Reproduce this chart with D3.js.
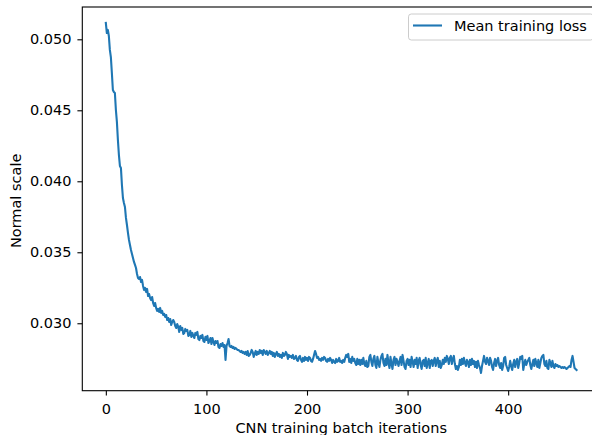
<!DOCTYPE html>
<html>
<head>
<meta charset="utf-8">
<script src="https://cdn.jsdelivr.net/npm/d3@7"></script>
<style>
  html, body { margin: 0; padding: 0; background: #fff; }
  svg { display: block; font-family: "DejaVu Sans", sans-serif; }
</style>
</head>
<body>
<svg id="chart" width="592" height="435"></svg>
<script>
// mean training loss per batch iteration
const loss = [
  0.05115, 0.05044, 0.05066, 0.05023, 0.04925, 0.04875, 0.04763, 0.04643, 0.04629, 0.04622,
  0.04502, 0.04418, 0.04291, 0.04185, 0.04108, 0.04094, 0.03974, 0.03882, 0.03847, 0.03819,
  0.03742, 0.03692, 0.03636, 0.03587, 0.03551, 0.03516, 0.03488, 0.03460, 0.03432, 0.03411,
  0.03389, 0.03347, 0.03319, 0.03312, 0.03326, 0.03291, 0.03305, 0.03263, 0.03235, 0.03249,
  0.03220, 0.03242, 0.03192, 0.03206, 0.03178, 0.03164, 0.03185, 0.03143, 0.03122, 0.03143,
  0.03108, 0.03087, 0.03101, 0.03080, 0.03108, 0.03073, 0.03087, 0.03058, 0.03066, 0.03044,
  0.03058, 0.03023, 0.03037, 0.03009, 0.03030, 0.02988, 0.03009, 0.03023, 0.03009, 0.02981,
  0.02967, 0.02995, 0.02974, 0.02939, 0.02981, 0.02953, 0.02967, 0.02925, 0.02932, 0.02960,
  0.02946, 0.02953, 0.02911, 0.02918, 0.02946, 0.02904, 0.02932, 0.02911, 0.02896, 0.02932,
  0.02918, 0.02939, 0.02889, 0.02882, 0.02911, 0.02896, 0.02918, 0.02875, 0.02868, 0.02904,
  0.02882, 0.02911, 0.02861, 0.02875, 0.02896, 0.02854, 0.02896, 0.02868, 0.02847, 0.02875,
  0.02861, 0.02875, 0.02833, 0.02826, 0.02854, 0.02840, 0.02861, 0.02833, 0.02847, 0.02742,
  0.02840, 0.02861, 0.02889, 0.02840, 0.02833, 0.02840, 0.02826, 0.02833, 0.02819, 0.02826,
  0.02819, 0.02812, 0.02812, 0.02805, 0.02798, 0.02805, 0.02791, 0.02798, 0.02784, 0.02798,
  0.02777, 0.02805, 0.02770, 0.02777, 0.02791, 0.02812, 0.02798, 0.02763, 0.02784, 0.02805,
  0.02777, 0.02798, 0.02784, 0.02812, 0.02791, 0.02805, 0.02777, 0.02812, 0.02798, 0.02784,
  0.02805, 0.02777, 0.02791, 0.02805, 0.02784, 0.02798, 0.02770, 0.02791, 0.02763, 0.02784,
  0.02798, 0.02770, 0.02784, 0.02763, 0.02777, 0.02756, 0.02791, 0.02770, 0.02777, 0.02798,
  0.02784, 0.02749, 0.02777, 0.02763, 0.02770, 0.02756, 0.02777, 0.02749, 0.02756, 0.02770,
  0.02742, 0.02735, 0.02763, 0.02770, 0.02742, 0.02728, 0.02756, 0.02735, 0.02763, 0.02742,
  0.02756, 0.02735, 0.02763, 0.02756, 0.02735, 0.02728, 0.02749, 0.02777, 0.02805, 0.02784,
  0.02756, 0.02763, 0.02742, 0.02749, 0.02735, 0.02756, 0.02742, 0.02763, 0.02756, 0.02735,
  0.02728, 0.02749, 0.02735, 0.02756, 0.02742, 0.02720, 0.02742, 0.02728, 0.02720, 0.02749,
  0.02728, 0.02735, 0.02756, 0.02728, 0.02735, 0.02720, 0.02742, 0.02728, 0.02756, 0.02777,
  0.02763, 0.02784, 0.02728, 0.02749, 0.02720, 0.02763, 0.02735, 0.02749, 0.02720, 0.02706,
  0.02749, 0.02713, 0.02742, 0.02706, 0.02742, 0.02713, 0.02756, 0.02713, 0.02699, 0.02735,
  0.02692, 0.02699, 0.02763, 0.02777, 0.02728, 0.02699, 0.02749, 0.02770, 0.02706, 0.02685,
  0.02763, 0.02720, 0.02692, 0.02742, 0.02770, 0.02784, 0.02720, 0.02699, 0.02749, 0.02706,
  0.02777, 0.02720, 0.02685, 0.02763, 0.02713, 0.02678, 0.02742, 0.02763, 0.02706, 0.02749,
  0.02728, 0.02699, 0.02735, 0.02763, 0.02706, 0.02777, 0.02735, 0.02692, 0.02678, 0.02735,
  0.02749, 0.02706, 0.02742, 0.02692, 0.02763, 0.02728, 0.02692, 0.02742, 0.02713, 0.02756,
  0.02685, 0.02735, 0.02756, 0.02706, 0.02678, 0.02735, 0.02742, 0.02699, 0.02756, 0.02685,
  0.02720, 0.02749, 0.02685, 0.02735, 0.02742, 0.02699, 0.02735, 0.02756, 0.02699, 0.02735,
  0.02756, 0.02692, 0.02735, 0.02685, 0.02706, 0.02742, 0.02713, 0.02756, 0.02728, 0.02770,
  0.02749, 0.02713, 0.02756, 0.02770, 0.02713, 0.02749, 0.02770, 0.02713, 0.02678, 0.02699,
  0.02671, 0.02692, 0.02742, 0.02706, 0.02749, 0.02713, 0.02756, 0.02720, 0.02699, 0.02742,
  0.02728, 0.02692, 0.02742, 0.02706, 0.02749, 0.02713, 0.02735, 0.02692, 0.02728, 0.02685,
  0.02735, 0.02706, 0.02685, 0.02650, 0.02699, 0.02735, 0.02770, 0.02728, 0.02713, 0.02756,
  0.02735, 0.02706, 0.02756, 0.02735, 0.02692, 0.02671, 0.02720, 0.02749, 0.02699, 0.02735,
  0.02756, 0.02706, 0.02685, 0.02720, 0.02671, 0.02699, 0.02756, 0.02763, 0.02706, 0.02685,
  0.02664, 0.02692, 0.02735, 0.02699, 0.02671, 0.02713, 0.02742, 0.02692, 0.02728, 0.02749,
  0.02685, 0.02720, 0.02763, 0.02749, 0.02770, 0.02671, 0.02713, 0.02742, 0.02706, 0.02728,
  0.02742, 0.02756, 0.02706, 0.02678, 0.02713, 0.02742, 0.02699, 0.02749, 0.02720, 0.02692,
  0.02742, 0.02685, 0.02720, 0.02756, 0.02770, 0.02777, 0.02713, 0.02699, 0.02735, 0.02685,
  0.02678, 0.02742, 0.02720, 0.02692, 0.02735, 0.02699, 0.02685, 0.02713, 0.02699, 0.02706,
  0.02692, 0.02699, 0.02692, 0.02685, 0.02692, 0.02685, 0.02692, 0.02685, 0.02678, 0.02685,
  0.02692, 0.02699, 0.02692, 0.02742, 0.02770, 0.02728, 0.02685, 0.02678, 0.02671
];
const xTicks = [0, 100, 200, 300, 400];
const yTicks = [0.030, 0.035, 0.040, 0.045, 0.050];
const seriesName = 'Mean training loss';
const xLabel = 'CNN training batch iterations';
const yLabel = 'Normal scale';

(function() {
  const svg = d3.select('#chart');
  const fs = 14.5;
  const blue = '#1f77b4';

  // axes box (right edge falls just outside the picture, as in the original)
  const left = 82.3, right = 600.1, top = 7, bottom = 390.7;

  const x = d3.scaleLinear().domain([-23.4, 491.4]).range([left, right]);
  const y = d3.scaleLinear().domain([0.02525, 0.052275]).range([bottom, top]);

  const line = d3.line()
    .x((d, i) => x(i))
    .y(d => y(d));

  svg.append('path')
    .datum(loss)
    .attr('fill', 'none')
    .attr('stroke', blue)
    .attr('stroke-width', 2.1)
    .attr('stroke-linejoin', 'round')
    .attr('stroke-linecap', 'square')
    .attr('d', line);

  // --- axes ---
  const xAxis = svg.append('g')
    .attr('transform', `translate(0,${bottom})`)
    .call(d3.axisBottom(x).tickValues(xTicks).tickSize(4.9).tickFormat(d3.format('d')));
  xAxis.selectAll('text').attr('y', 23.3).attr('dy', null);

  const yAxis = svg.append('g')
    .attr('transform', `translate(${left},0)`)
    .call(d3.axisLeft(y).tickValues(yTicks).tickSize(4.9).tickPadding(6).tickFormat(d3.format('.3f')));

  [xAxis, yAxis].forEach(g => {
    g.select('.domain').remove();
    g.selectAll('line').attr('stroke', '#000').attr('stroke-width', 1.1);
    g.selectAll('text')
      .attr('fill', '#000')
      .style('font-family', '"DejaVu Sans", sans-serif')
      .style('font-size', fs + 'px');
  });

  // spines
  svg.append('rect')
    .attr('x', left).attr('y', top)
    .attr('width', right - left).attr('height', bottom - top)
    .attr('fill', 'none')
    .attr('stroke', '#000')
    .attr('stroke-width', 1.1);

  // axis labels
  svg.append('text')
    .attr('x', (left + right) / 2)
    .attr('y', 433)
    .attr('text-anchor', 'middle')
    .style('font-size', fs + 'px')
    .text(xLabel);

  svg.append('text')
    .attr('transform', `translate(20.5,${(top + bottom) / 2 + 2}) rotate(-90)`)
    .attr('text-anchor', 'middle')
    .style('font-size', fs + 'px')
    .text(yLabel);

  // legend
  const lg = svg.append('g');
  lg.append('rect')
    .attr('x', 408.5).attr('y', 14)
    .attr('width', 185).attr('height', 26)
    .attr('rx', 2.8)
    .attr('fill', '#fff').attr('fill-opacity', 0.8)
    .attr('stroke', '#ccc').attr('stroke-width', 1);
  lg.append('line')
    .attr('x1', 413).attr('x2', 442)
    .attr('y1', 25.5).attr('y2', 25.5)
    .attr('stroke', blue).attr('stroke-width', 2.1);
  lg.append('text')
    .attr('x', 454).attr('y', 30.5)
    .style('font-size', fs + 'px')
    .text(seriesName);
})();
</script>
</body>
</html>
